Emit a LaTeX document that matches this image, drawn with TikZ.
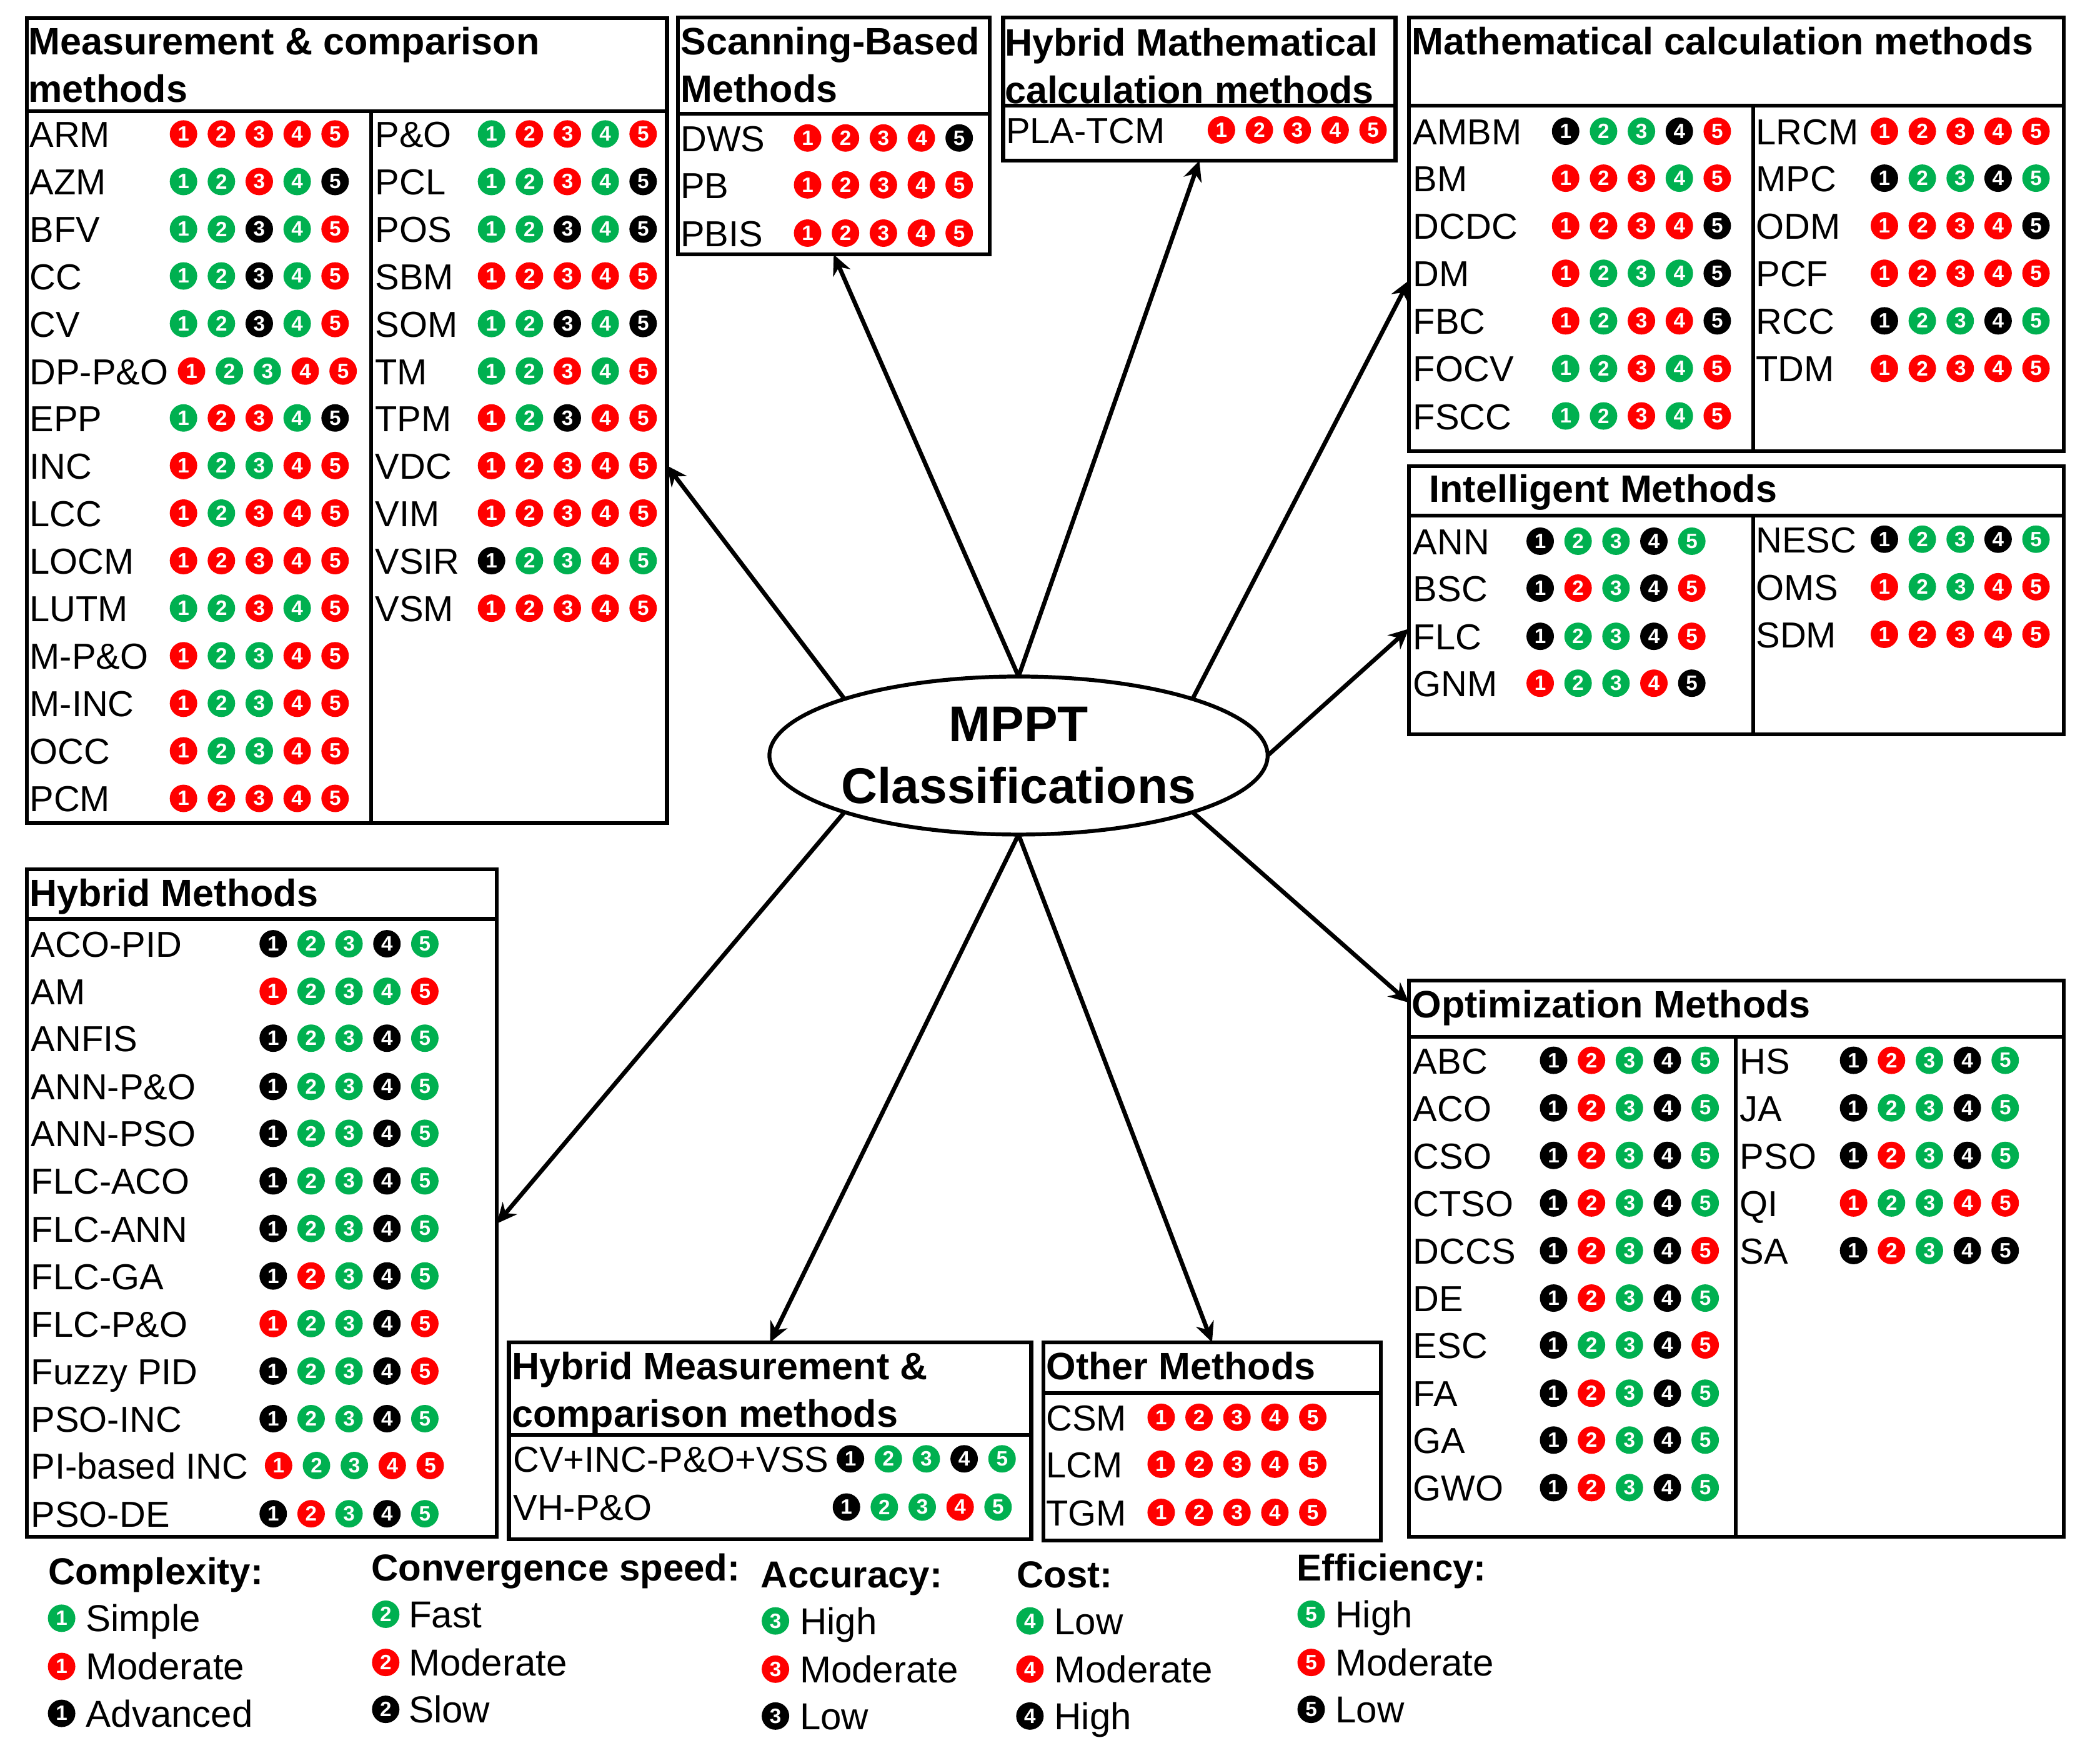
\documentclass[tikz,border=0pt]{standalone}
\usepackage{fontspec}
\setmainfont{Liberation Sans}
\usetikzlibrary{arrows.meta,shapes.geometric}
\definecolor{bg}{HTML}{00B050}
\definecolor{br}{HTML}{FF0000}
\definecolor{bk}{HTML}{000000}
\newcounter{rw}
\tikzset{
  lbl/.style={anchor=base west,inner sep=0pt,font=\fontsize{27}{33}\selectfont},
  legi/.style={anchor=base west,inner sep=0pt,font=\fontsize{28}{34}\selectfont},
  hdr/.style={anchor=north west,inner sep=0pt,align=left,font=\fontsize{28.5}{35.5}\selectfont\bfseries},
  legt/.style={anchor=base west,inner sep=0pt,font=\fontsize{28}{34}\selectfont\bfseries},
  badge/.style={circle,inner sep=0pt,minimum size=20.5pt,text=white,font=\fontsize{15.5}{15.5}\selectfont\bfseries},
  panel/.style={draw,line width=2.9pt,minimum width=#1,inner sep=0pt,outer sep=0pt},
  rule/.style={line width=2.9pt},
  link/.style={line width=3.2pt,-{Stealth[length=15pt,width=14pt]}},
  hub/.style={ellipse,draw,line width=2.9pt,fill=white,inner xsep=-30pt,inner ysep=-30pt,outer sep=0pt,minimum width=372pt,minimum height=118pt,align=center,font=\fontsize{37.5}{46}\selectfont\bfseries}
}
% label x, centre y, text, first badge x, badge colours
\newcommand{\mrow}[5]{%
  \stepcounter{rw}%
  \node[lbl] (t\therw) at (#1,#2+10) {#3};
  \foreach \c [count=\i] in {#5} {
    \pgfmathsetmacro\xx{#4+(\i-1)*28.3}
    \node[badge,fill=b\c] (b\therw-\i) at (\xx,#2) {\i};
  }
}
% badge x, centre y, colour, digit, text x, text
\newcommand{\lrow}[6]{%
  \stepcounter{rw}%
  \node[badge,fill=b#3] (b\therw) at (#1,#2) {#4};
  \node[legi] (t\therw) at (#5,#2+10) {#6};
}
\begin{document}
\begin{tikzpicture}[x=1pt,y=-1pt]
\useasboundingbox (0,0) rectangle (1568,1311.9);
% panels
\node[panel=478pt,minimum height=601pt] (meas) at (259,314) {};
\node[panel=233pt,minimum height=177pt] (scan) at (622.5,101.5) {};
\node[panel=293pt,minimum height=107pt] (hmath) at (895.5,66.5) {};
\node[panel=489pt,minimum height=324pt] (math) at (1296.5,175) {};
\node[panel=489pt,minimum height=200pt] (intel) at (1296.5,448) {};
\node[panel=489pt,minimum height=415pt] (opti) at (1296.5,939.5) {};
\node[panel=252pt,minimum height=148pt] (other) at (905,1076) {};
\node[panel=390pt,minimum height=147pt] (hmeas) at (575,1075.5) {};
\node[panel=351pt,minimum height=498pt] (hyb) at (195.5,898) {};
% panel rules
\draw[rule] (meas.west |- 0,83) -- (meas.east |- 0,83);
\draw[rule] (277,83) -- (277,614);
\draw[rule] (scan.west |- 0,85) -- (scan.east |- 0,85);
\draw[rule] (hmath.west |- 0,79) -- (hmath.east |- 0,79);
\draw[rule] (math.west |- 0,79) -- (math.east |- 0,79);
\draw[rule] (1309,79) -- (1309,337);
\draw[rule] (intel.west |- 0,385) -- (intel.east |- 0,385);
\draw[rule] (1309,385) -- (1309,548);
\draw[rule] (opti.west |- 0,774) -- (opti.east |- 0,774);
\draw[rule] (1296,774) -- (1296,1147);
\draw[rule] (other.west |- 0,1040) -- (other.east |- 0,1040);
\draw[rule] (hmeas.west |- 0,1071) -- (hmeas.east |- 0,1071);
\draw[rule] (hyb.west |- 0,686) -- (hyb.east |- 0,686);
% headers
\node[hdr] (hd1) at (21,20) {Measurement \& comparison\\methods};
\node[hdr] (hd2) at (508,20) {Scanning-Based\\Methods};
\node[hdr] (hd3) at (750,21) {Hybrid Mathematical\\calculation methods};
\node[hdr] (hd4) at (1054,20) {Mathematical calculation methods};
\node[hdr] (hd5) at (1067,354) {Intelligent Methods};
\node[hdr] (hd6) at (1054,739) {Optimization Methods};
\node[hdr] (hd7) at (22,656) {Hybrid Methods};
\node[hdr] (hd8) at (382,1009) {Hybrid Measurement \&\\comparison methods};
\node[hdr] (hd9) at (781,1009) {Other Methods};
% measurement & comparison
\mrow{22}{100}{ARM}{137}{r,r,r,r,r}
\mrow{22}{135.5}{AZM}{137}{g,g,r,g,k}
\mrow{22}{171}{BFV}{137}{g,g,k,g,r}
\mrow{22}{206}{CC}{137}{g,g,k,g,r}
\mrow{22}{241.5}{CV}{137}{g,g,k,g,r}
\mrow{22}{277}{DP-P\&O}{143}{r,g,g,r,r}
\mrow{22}{312}{EPP}{137}{g,r,r,g,k}
\mrow{22}{347.5}{INC}{137}{r,g,g,r,r}
\mrow{22}{383}{LCC}{137}{r,g,r,r,r}
\mrow{22}{418.5}{LOCM}{137}{r,r,r,r,r}
\mrow{22}{454}{LUTM}{137}{g,g,r,g,r}
\mrow{22}{489.5}{M-P\&O}{137}{r,g,g,r,r}
\mrow{22}{525}{M-INC}{137}{r,g,g,r,r}
\mrow{22}{560.5}{OCC}{137}{r,g,g,r,r}
\mrow{22}{596}{PCM}{137}{r,r,r,r,r}
\mrow{280}{100}{P\&O}{367}{g,r,r,g,r}
\mrow{280}{135.5}{PCL}{367}{g,g,r,g,k}
\mrow{280}{171}{POS}{367}{g,g,k,g,k}
\mrow{280}{206}{SBM}{367}{r,r,r,r,r}
\mrow{280}{241.5}{SOM}{367}{g,g,k,g,k}
\mrow{280}{277}{TM}{367}{g,g,r,g,r}
\mrow{280}{312}{TPM}{367}{r,g,k,r,r}
\mrow{280}{347.5}{VDC}{367}{r,r,r,r,r}
\mrow{280}{383}{VIM}{367}{r,r,r,r,r}
\mrow{280}{418.5}{VSIR}{367}{k,g,g,r,g}
\mrow{280}{454}{VSM}{367}{r,r,r,r,r}
% scanning
\mrow{508}{103}{DWS}{603}{r,r,r,r,k}
\mrow{508}{138}{PB}{603}{r,r,r,r,r}
\mrow{508}{174}{PBIS}{603}{r,r,r,r,r}
% hybrid mathematical
\mrow{751}{97}{PLA-TCM}{912}{r,r,r,r,r}
% mathematical
\mrow{1055}{98}{AMBM}{1169}{k,g,g,k,r}
\mrow{1055}{133}{BM}{1169}{r,r,r,g,r}
\mrow{1055}{168.5}{DCDC}{1169}{r,r,r,r,k}
\mrow{1055}{204}{DM}{1169}{r,g,g,g,k}
\mrow{1055}{239.5}{FBC}{1169}{r,g,r,r,k}
\mrow{1055}{275}{FOCV}{1169}{g,g,r,g,r}
\mrow{1055}{310.5}{FSCC}{1169}{g,g,r,g,r}
\mrow{1311}{98}{LRCM}{1407}{r,r,r,r,r}
\mrow{1311}{133}{MPC}{1407}{k,g,g,k,g}
\mrow{1311}{168.5}{ODM}{1407}{r,r,r,r,k}
\mrow{1311}{204}{PCF}{1407}{r,r,r,r,r}
\mrow{1311}{239.5}{RCC}{1407}{k,g,g,k,g}
\mrow{1311}{275}{TDM}{1407}{r,r,r,r,r}
% intelligent
\mrow{1055}{404}{ANN}{1150}{k,g,g,k,g}
\mrow{1055}{439}{BSC}{1150}{k,r,g,k,r}
\mrow{1055}{475}{FLC}{1150}{k,g,g,k,r}
\mrow{1055}{510}{GNM}{1150}{r,g,g,r,k}
\mrow{1311}{402.5}{NESC}{1407}{k,g,g,k,g}
\mrow{1311}{438}{OMS}{1407}{r,g,g,r,r}
\mrow{1311}{473.5}{SDM}{1407}{r,r,r,r,r}
% optimization
\mrow{1055}{791.5}{ABC}{1160}{k,r,g,k,g}
\mrow{1055}{827}{ACO}{1160}{k,r,g,k,g}
\mrow{1055}{862.5}{CSO}{1160}{k,r,g,k,g}
\mrow{1055}{898}{CTSO}{1160}{k,r,g,k,g}
\mrow{1055}{933.5}{DCCS}{1160}{k,r,g,k,r}
\mrow{1055}{969}{DE}{1160}{k,r,g,k,g}
\mrow{1055}{1004}{ESC}{1160}{k,g,g,k,r}
\mrow{1055}{1040}{FA}{1160}{k,r,g,k,g}
\mrow{1055}{1075}{GA}{1160}{k,r,g,k,g}
\mrow{1055}{1110.5}{GWO}{1160}{k,r,g,k,g}
\mrow{1299}{791.5}{HS}{1384}{k,r,g,k,g}
\mrow{1299}{827}{JA}{1384}{k,g,g,k,g}
\mrow{1299}{862.5}{PSO}{1384}{k,r,g,k,g}
\mrow{1299}{898}{QI}{1384}{r,g,g,r,r}
\mrow{1299}{933.5}{SA}{1384}{k,r,g,k,k}
% hybrid
\mrow{23}{704.5}{ACO-PID}{204}{k,g,g,k,g}
\mrow{23}{740}{AM}{204}{r,g,g,g,r}
\mrow{23}{775}{ANFIS}{204}{k,g,g,k,g}
\mrow{23}{811}{ANN-P\&O}{204}{k,g,g,k,g}
\mrow{23}{846}{ANN-PSO}{204}{k,g,g,k,g}
\mrow{23}{881.5}{FLC-ACO}{204}{k,g,g,k,g}
\mrow{23}{917}{FLC-ANN}{204}{k,g,g,k,g}
\mrow{23}{952.5}{FLC-GA}{204}{k,r,g,k,g}
\mrow{23}{988}{FLC-P\&O}{204}{r,g,g,k,r}
\mrow{23}{1023.5}{Fuzzy PID}{204}{k,g,g,k,r}
\mrow{23}{1059}{PSO-INC}{204}{k,g,g,k,g}
\mrow{23}{1094}{PI-based INC}{208}{r,g,g,r,r}
\mrow{23}{1130}{PSO-DE}{204}{k,r,g,k,g}
% hybrid measurement
\mrow{383}{1089}{CV+INC-P\&O+VSS}{635}{k,g,g,k,g}
\mrow{383}{1125}{VH-P\&O}{632}{k,g,g,r,g}
% other
\mrow{781}{1058}{CSM}{867}{r,r,r,r,r}
\mrow{781}{1093}{LCM}{867}{r,r,r,r,r}
\mrow{781}{1129}{TGM}{867}{r,r,r,r,r}
% hub
\node[hub] (mppt) at (760.5,564) {MPPT\\Classifications};
% connectors
\draw[link] (mppt.162) -- (meas.-8.7);
\draw[link] (mppt.north) -- (scan.south);
\draw[link] (mppt.north) -- (hmath.south);
\draw[link] (mppt.18) -- (math.188.6);
\draw[link] (mppt.east) -- (intel.185.1);
\draw[link] (mppt.-18) -- (opti.142.2);
\draw[link] (mppt.south) -- (other.north);
\draw[link] (mppt.south) -- (hmeas.north);
\draw[link] (mppt.198) -- (hyb.-5.5);
% legend
\node[legt] (lt1) at (36,1183) {Complexity:};
\lrow{46}{1208}{g}{1}{64}{Simple}
\lrow{46}{1244}{r}{1}{64}{Moderate}
\lrow{46}{1279}{k}{1}{64}{Advanced}
\node[legt] (lt2) at (277,1180) {Convergence speed:};
\lrow{288}{1205}{g}{2}{305}{Fast}
\lrow{288}{1241}{r}{2}{305}{Moderate}
\lrow{288}{1276}{k}{2}{305}{Slow}
\node[legt] (lt3) at (568,1185) {Accuracy:};
\lrow{579}{1210}{g}{3}{597}{High}
\lrow{579}{1246}{r}{3}{597}{Moderate}
\lrow{579}{1281}{k}{3}{597}{Low}
\node[legt] (lt4) at (759,1185) {Cost:};
\lrow{769}{1210}{g}{4}{787}{Low}
\lrow{769}{1246}{r}{4}{787}{Moderate}
\lrow{769}{1281}{k}{4}{787}{High}
\node[legt] (lt5) at (968,1180) {Efficiency:};
\lrow{979}{1205}{g}{5}{997}{High}
\lrow{979}{1241}{r}{5}{997}{Moderate}
\lrow{979}{1276}{k}{5}{997}{Low}
\end{tikzpicture}
\end{document}
